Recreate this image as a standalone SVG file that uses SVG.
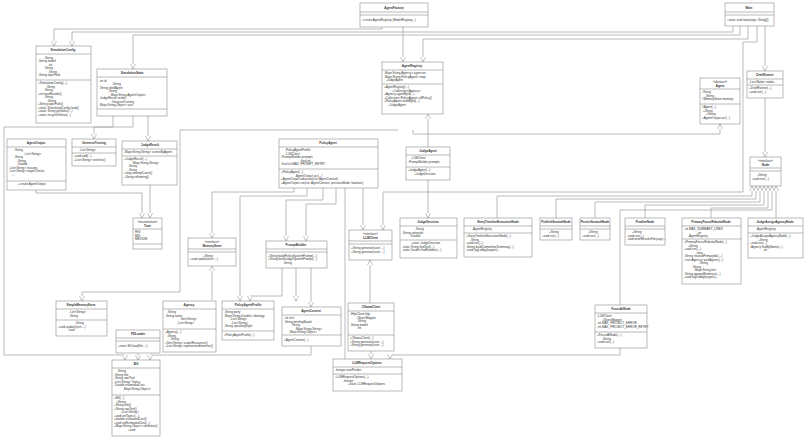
<svg xmlns="http://www.w3.org/2000/svg" width="806" height="438" viewBox="0 0 806 438">
<style>
rect{fill:#fff;stroke:#8c8c8c;stroke-width:.6}
.d{stroke:#8c8c8c;stroke-width:.6}
text{font-family:"Liberation Sans",Arial,sans-serif;font-size:3px;fill:#333}
.t{font-weight:bold;text-anchor:middle}
.s{text-anchor:middle}
#conn polyline{fill:none;stroke:#a8a8a8;stroke-width:.8;marker-end:url(#a)}
</style>
<defs><marker id="a" markerWidth="6" markerHeight="6" refX="5" refY="3" orient="auto" markerUnits="userSpaceOnUse"><path d="M0,0.5 L5,3 L0,5.5" fill="#fff" stroke="#999" stroke-width=".6"/></marker></defs>
<rect x="0" y="0" width="806" height="438" style="fill:#fff;stroke:none"/>
<g id="conn">
<polyline points="382,27 382,29 54,29 54,46"/>
<polyline points="733,26 733,32 72,32 72,46"/>
<polyline points="740,26 740,35 133,35 133,69"/>
<polyline points="748,26 748,39 423,39 423,62"/>
<polyline points="403,27 403,62"/>
<polyline points="765,26 765,71"/>
<polyline points="765,98 765,157"/>
<polyline points="757,26 757,42 743,42 743,192 383,192 383,230"/>
<polyline points="113,116 113,127 4,127 4,355 125,355 125,360"/>
<polyline points="398,130 180,130 180,292 82,292 82,301"/>
<polyline points="413,130 413,134 720,134 720,124"/>
<polyline points="428,147 428,114"/>
<polyline points="428,180 428,218"/>
<polyline points="133,116 133,127 94,127 94,139"/>
<polyline points="148,116 148,141"/>
<polyline points="150,185 150,218"/>
<polyline points="36,190 36,193 142,193 142,218"/>
<polyline points="497,218 497,196 752,196 752,186"/>
<polyline points="556,218 556,199 756,199 756,186"/>
<polyline points="595,218 595,202 760,202 760,186"/>
<polyline points="645,218 645,205 764,205 764,186"/>
<polyline points="711,218 711,208 768,208 768,186"/>
<polyline points="776,218 776,186"/>
<polyline points="620,305 620,210 772,210 772,186"/>
<polyline points="294,188 294,192 212,192 212,238"/>
<polyline points="307,188 307,196 240,196 240,301"/>
<polyline points="323,188 323,200 286,200 286,241"/>
<polyline points="336,188 336,204 306,204 306,241"/>
<polyline points="345,188 345,365 333,365"/>
<polyline points="363,188 363,230"/>
<polyline points="282,268 282,296 250,296 250,301"/>
<polyline points="296,268 296,301"/>
<polyline points="311,268 311,307"/>
<polyline points="212,300 212,266"/>
<polyline points="370,303 370,260"/>
<polyline points="371,351 371,359"/>
<polyline points="620,348 620,355 390,355 390,359"/>
<polyline points="311,346 311,355 150,355 150,360"/>
<polyline points="138,353 138,360"/>
</g>

<g id="AgentFactory"><rect x="360" y="3" width="68" height="24"/><line class="d" x1="360" y1="12" x2="428" y2="12"/><line class="d" x1="360" y1="15" x2="428" y2="15"/><text class="t" x="394" y="9">AgentFactory</text><text x="362" y="21">+create AgentRegistry (ModelRegistry...)</text></g>

<g id="Main"><rect x="725" y="3" width="49" height="23"/><line class="d" x1="725" y1="12" x2="774" y2="12"/><line class="d" x1="725" y1="15" x2="774" y2="15"/><text class="t" x="749" y="9">Main</text><text x="727" y="21">+static void main(args: String[])</text></g>

<g id="SimulationConfig"><rect x="36" y="46" width="55" height="77"/><line class="d" x1="36" y1="54" x2="91" y2="54"/><line class="d" x1="36" y1="80" x2="91" y2="80"/><text class="t" x="63" y="51">SimulationConfig</text>
<text x="44" y="58.5">-String</text><text x="38" y="62">-String model</text><text x="48" y="65.5">-int</text><text x="44" y="69">-String</text><text x="48" y="72.5">-String</text><text x="38" y="76">-String topicPath</text>
<text x="38" y="84">+SimulationConfig(...)</text><text x="46" y="87.5">-String</text><text x="44" y="91">-String</text><text x="38" y="94.5">+int maxRounds()</text><text x="44" y="98">-String</text><text x="47" y="101.5">-String</text><text x="38" y="105">+String topicPath()</text><text x="38" y="108.5">+static SimulationConfig load()</text><text x="38" y="112">+static String getValue(...)</text><text x="38" y="115.5">+static int getIntValue(...)</text></g>

<g id="SimulationState"><rect x="97" y="69" width="70" height="47"/><line class="d" x1="97" y1="77" x2="167" y2="77"/><line class="d" x1="97" y1="109" x2="167" y2="109"/><text class="t" x="132" y="74">SimulationState</text>
<text x="99" y="81.5">-int id</text><text x="112" y="85">-String</text><text x="99" y="88.5">-String shellAgent</text><text x="108" y="92">-String</text><text x="110" y="95.5">-Map&lt;String,AgentOutput&gt;</text><text x="99" y="99">-JudgeResult verdict</text><text x="111" y="102.5">-UniverseTurning</text><text x="99" y="106">-Map&lt;String,Object&gt; vars</text></g>

<g id="AgentRegistry"><rect x="382" y="62" width="61" height="52"/><line class="d" x1="382" y1="70" x2="443" y2="70"/><line class="d" x1="382" y1="84" x2="443" y2="84"/><text class="t" x="412" y="67">AgentRegistry</text>
<text x="384" y="74">-Map&lt;String,Agency&gt; agencies</text><text x="384" y="77.5">-Map&lt;String,PolicyAgent&gt; map</text><text x="386" y="81">-JudgeAgent</text>
<text x="384" y="88">+AgentRegistry(...)</text><text x="392" y="91.5">+Collection&lt;Agency&gt;</text><text x="384" y="95">+Agency agentById(...)</text><text x="384" y="98.5">+Collection&lt;PolicyAgent&gt; allPolicy()</text><text x="384" y="102">+PolicyAgent nodeById(...)</text><text x="388" y="105.5">+JudgeAgent</text></g>

<g id="DraftRunner"><rect x="747" y="71" width="36" height="27"/><line class="d" x1="747" y1="79" x2="783" y2="79"/><line class="d" x1="747" y1="85" x2="783" y2="85"/><text class="t" x="765" y="76">DraftRunner</text><text x="749" y="82.5">-List&lt;Node&gt; nodes</text><text x="749" y="89">+DraftRunner(...)</text><text x="749" y="93">+void run(...)</text></g>

<g id="Agent"><rect x="700" y="78" width="40" height="46"/><line class="d" x1="700" y1="89" x2="740" y2="89"/><line class="d" x1="700" y1="104" x2="740" y2="104"/><text class="s" x="720" y="82.5">«abstract»</text><text class="t" x="720" y="86.5">Agent</text>
<text x="702" y="93">-String</text><text x="705" y="96.5">-String</text><text x="702" y="100">#MemoryStore memory</text><text x="702" y="108">#Agent(...)</text><text x="703" y="111.5">+String</text><text x="706" y="115">+String</text><text x="702" y="118.5">+AgentOutput act(...)</text></g>

<g id="AgentOutput"><rect x="7" y="139" width="59" height="51"/><line class="d" x1="7" y1="147" x2="66" y2="147"/><line class="d" x1="7" y1="181" x2="66" y2="181"/><text class="t" x="36" y="144">AgentOutput</text>
<text x="14" y="151">-String</text><text x="24" y="154.5">-List&lt;String&gt;</text><text x="14" y="158">-String</text><text x="17" y="161.5">-String</text><text x="17" y="165">-Double</text><text x="9" y="168.5">-List&lt;String&gt; reasons</text><text x="9" y="172">-List&lt;String&gt; targetChecks</text><text x="12" y="175.5">...</text><text x="18" y="185">+create AgentOutput</text></g>

<g id="UniverseTurning"><rect x="72" y="139" width="44" height="27"/><line class="d" x1="72" y1="147" x2="116" y2="147"/><line class="d" x1="72" y1="153" x2="116" y2="153"/><text class="t" x="94" y="144">UniverseTurning</text><text x="79" y="150.5">-List&lt;String&gt;</text><text x="74" y="157">+void add(...)</text><text x="74" y="160.5">+List&lt;String&gt; snitches()</text></g>

<g id="JudgeResult"><rect x="122" y="141" width="55" height="44"/><line class="d" x1="122" y1="149" x2="177" y2="149"/><line class="d" x1="122" y1="156" x2="177" y2="156"/><text class="t" x="150" y="146">JudgeResult</text><text x="124" y="153">-Map&lt;String,String&gt; scoresByAgent</text>
<text x="124" y="160">+JudgeResult(...)</text><text x="132" y="163.5">-Map&lt;String,String&gt;</text><text x="128" y="167">-String</text><text x="128" y="170.5">-String</text><text x="124" y="174">+long attemptCount()</text><text x="124" y="177.5">+String reframing()</text></g>

<g id="PolicyAgent"><rect x="279" y="139" width="99" height="49"/><line class="d" x1="279" y1="147" x2="378" y2="147"/><line class="d" x1="279" y1="169" x2="378" y2="169"/><text class="t" x="328" y="144">PolicyAgent</text>
<text x="285" y="151">-PolicyAgentProfile</text><text x="285" y="154.5">-LLMClient</text><text x="281" y="158">-PromptBuilder prompts</text><text x="300" y="161.5">-final int</text><text x="281" y="165">-final int MAX_PROMPT_RETRY</text>
<text x="281" y="173">+PolicyAgent(...)</text><text x="295" y="176.5">-AgentOutput act(...)</text><text x="281" y="180">+AgentOutput advocate(ctx: AgentContext)</text><text x="281" y="183.5">+AgentOutput run(ctx: AgentContext, previousMode: boolean)</text></g>

<g id="JudgeAgent"><rect x="406" y="147" width="44" height="33"/><line class="d" x1="406" y1="155" x2="450" y2="155"/><line class="d" x1="406" y1="167" x2="450" y2="167"/><text class="t" x="428" y="152">JudgeAgent</text><text x="411" y="159">-LLMClient</text><text x="408" y="162.5">-PromptBuilder prompts</text><text x="408" y="171">+JudgeAgent(...)</text><text x="414" y="174.5">+JudgeDecision</text></g>

<g id="Node"><rect x="750" y="157" width="31" height="29"/><line class="d" x1="750" y1="168" x2="781" y2="168"/><line class="d" x1="750" y1="171" x2="781" y2="171"/><text class="s" x="765.5" y="161.5">«interface»</text><text class="t" x="765.5" y="165.5">Node</text><text x="757" y="176">+String</text><text x="752" y="179.5">+void run(...)</text></g>

<g id="Tone"><rect x="133" y="218" width="29" height="31"/><line class="d" x1="133" y1="229" x2="162" y2="229"/><line class="d" x1="133" y1="244" x2="162" y2="244"/><text class="s" x="147.5" y="222.5">«enumeration»</text><text class="t" x="147.5" y="226.5">Tone</text><text x="135" y="233">HIG</text><text x="135" y="236.5">MID</text><text x="135" y="240">MEDIUM</text></g>

<g id="JudgeDecision"><rect x="400" y="218" width="57" height="40"/><line class="d" x1="400" y1="226" x2="457" y2="226"/><line class="d" x1="400" y1="240" x2="457" y2="240"/><text class="t" x="428" y="223">JudgeDecision</text><text x="415" y="230">-String</text><text x="402" y="233.5">-String rationale</text><text x="410" y="237">-Double</text><text x="411" y="244">+static JudgeDecision</text><text x="402" y="247.5">-static String findText(...)</text><text x="402" y="251">-static Double findNumber(...)</text></g>

<g id="StoryTimelineExecutionNode"><rect x="464" y="218" width="68" height="39"/><line class="d" x1="464" y1="226" x2="532" y2="226"/><line class="d" x1="464" y1="233" x2="532" y2="233"/><text class="t" x="498" y="223">StoryTimelineExecutionNode</text><text x="472" y="230">-AgentRegistry</text>
<text x="466" y="237">+StoryTimelineExecutionNode(...)</text><text x="470" y="240.5">-String</text><text x="466" y="244">+void run(...)</text><text x="466" y="247.5">-String buildCommitteeSummary(...)</text><text x="466" y="251">+void logLobby(targets)...</text></g>

<g id="PublishScratchNode"><rect x="540" y="218" width="32" height="22"/><line class="d" x1="540" y1="226" x2="572" y2="226"/><line class="d" x1="540" y1="229" x2="572" y2="229"/><text class="t" x="556" y="223">PublishScratchNode</text><text x="549" y="233">+String</text><text x="542" y="236.5">+void run(...)</text></g>

<g id="PersistScratchNode"><rect x="580" y="218" width="30" height="22"/><line class="d" x1="580" y1="226" x2="610" y2="226"/><line class="d" x1="580" y1="229" x2="610" y2="229"/><text class="t" x="595" y="223">PersistScratchNode</text><text x="588" y="233">+String</text><text x="582" y="236.5">+void run(...)</text></g>

<g id="FinalizeNode"><rect x="625" y="218" width="40" height="27"/><line class="d" x1="625" y1="226" x2="665" y2="226"/><line class="d" x1="625" y1="229" x2="665" y2="229"/><text class="t" x="645" y="223">FinalizeNode</text><text x="632" y="233">+String</text><text x="627" y="236.5">+void run(...)</text><text x="627" y="240">-void writeResultsFile(args)...</text></g>

<g id="PrimaryFocusRebuttalNode"><rect x="682" y="218" width="59" height="66"/><line class="d" x1="682" y1="226" x2="741" y2="226"/><line class="d" x1="682" y1="239" x2="741" y2="239"/><text class="t" x="711" y="223">PrimaryFocusRebuttalNode</text>
<text x="684" y="230">-int MAX_SUMMARY_LINES</text><text x="697" y="233.5">-int</text><text x="688" y="237">-AgentRegistry</text>
<text x="684" y="243">+PrimaryFocusRebuttalNode(...)</text><text x="688" y="246.5">+String</text><text x="684" y="250">+void run(...)</text><text x="696" y="253.5">-long</text><text x="684" y="257">-String choosePrimaryIds(...)</text><text x="684" y="260.5">-List&lt;Agency&gt; pickAgents(...)</text><text x="699" y="264">-String</text><text x="692" y="267.5">-String</text><text x="694" y="271">-Map&lt;String,Int&gt;</text><text x="684" y="274.5">-String appendEvidence(...)</text><text x="684" y="278">+void logLobby(targets)...</text></g>

<g id="JudgeAssignAgencyNode"><rect x="748" y="218" width="55" height="40"/><line class="d" x1="748" y1="226" x2="803" y2="226"/><line class="d" x1="748" y1="233" x2="803" y2="233"/><text class="t" x="775" y="223">JudgeAssignAgencyNode</text><text x="756" y="230">-AgentRegistry</text>
<text x="750" y="237">+JudgeAssignAgencyNode(...)</text><text x="758" y="240.5">+String</text><text x="750" y="244">+void run(...)</text><text x="750" y="247.5">-Agency findByName(...)</text><text x="763" y="251">-int</text></g>

<g id="MemoryStore"><rect x="188" y="238" width="48" height="28"/><line class="d" x1="188" y1="249" x2="236" y2="249"/><line class="d" x1="188" y1="252" x2="236" y2="252"/><text class="s" x="212" y="242.5">«interface»</text><text class="t" x="212" y="246.5">MemoryStore</text><text x="203" y="256.5">+String</text><text x="190" y="260">+void update(turn:...)</text></g>

<g id="PromptBuilder"><rect x="266" y="241" width="61" height="27"/><line class="d" x1="266" y1="249" x2="327" y2="249"/><line class="d" x1="266" y1="252" x2="327" y2="252"/><text class="t" x="296" y="246">PromptBuilder</text><text x="268" y="256.5">+String buildPolicySystemPrompt(...)</text><text x="268" y="260">+String buildJudgeSystemPrompt(...)</text><text x="283" y="263.5">-String</text></g>

<g id="LLMClient"><rect x="349" y="230" width="43" height="30"/><line class="d" x1="349" y1="241" x2="392" y2="241"/><line class="d" x1="349" y1="244" x2="392" y2="244"/><text class="s" x="370.5" y="234.5">«interface»</text><text class="t" x="370.5" y="238.5">LLMClient</text><text x="351" y="249">+String generate(user:...)</text><text x="351" y="252.5">+String generate(user:...)</text></g>

<g id="SimpleMemoryStore"><rect x="56" y="301" width="51" height="35"/><line class="d" x1="56" y1="309" x2="107" y2="309"/><line class="d" x1="56" y1="320" x2="107" y2="320"/><text class="t" x="81" y="306">SimpleMemoryStore</text><text x="69" y="313">-List&lt;String&gt;</text><text x="69" y="316.5">-String</text><text x="75" y="324">-String</text><text x="58" y="327.5">+void update(turn:...)</text><text x="68" y="331">-void</text></g>

<g id="Agency"><rect x="163" y="301" width="53" height="51"/><line class="d" x1="163" y1="309" x2="216" y2="309"/><line class="d" x1="163" y1="329" x2="216" y2="329"/><text class="t" x="189" y="306">Agency</text><text x="167" y="313">-String</text><text x="165" y="316.5">-String name</text><text x="180" y="320">-Set&lt;String&gt;</text><text x="177" y="323.5">-List&lt;String&gt;</text>
<text x="165" y="333">+Agency(...)</text><text x="167" y="336.5">-String</text><text x="170" y="340">-String</text><text x="165" y="343.5">+Set&lt;String&gt; scopeResources()</text><text x="165" y="347">+List&lt;String&gt; representedInterests()</text></g>

<g id="PolicyAgentProfile"><rect x="222" y="301" width="52" height="39"/><line class="d" x1="222" y1="309" x2="274" y2="309"/><line class="d" x1="222" y1="331" x2="274" y2="331"/><text class="t" x="248" y="306">PolicyAgentProfile</text><text x="224" y="313">-String party</text><text x="224" y="316.5">-Map&lt;String,Double&gt; ideology</text><text x="230" y="320">-List&lt;String&gt;</text><text x="231" y="323.5">-List&lt;String&gt;</text><text x="224" y="327">-String speakingStyle</text><text x="224" y="336">+PolicyAgentProfile(...)</text></g>

<g id="AgentContext"><rect x="282" y="307" width="59" height="39"/><line class="d" x1="282" y1="315" x2="341" y2="315"/><line class="d" x1="282" y1="335" x2="341" y2="335"/><text class="t" x="311" y="312">AgentContext</text><text x="284" y="319">-int turn</text><text x="284" y="322.5">-String briefingBoard</text><text x="291" y="326">-String</text><text x="295" y="329.5">-Map&lt;String,String&gt;</text><text x="289" y="333">-Map&lt;String,Object&gt;</text><text x="284" y="341">+AgentContext(...)</text></g>

<g id="OllamaClient"><rect x="348" y="303" width="46" height="48"/><line class="d" x1="348" y1="311" x2="394" y2="311"/><line class="d" x1="348" y1="335" x2="394" y2="335"/><text class="t" x="371" y="308">OllamaClient</text><text x="350" y="315">-HttpClient http</text><text x="356" y="318.5">-ObjectMapper</text><text x="357" y="322">-String</text><text x="350" y="325.5">-String model</text><text x="357" y="329">-int</text><text x="350" y="339">+OllamaClient(...)</text><text x="350" y="342.5">+String generate(user:...)</text><text x="350" y="346">+String generate(user:...)</text></g>

<g id="FocusAtNode"><rect x="595" y="305" width="52" height="43"/><line class="d" x1="595" y1="313" x2="647" y2="313"/><line class="d" x1="595" y1="332" x2="647" y2="332"/><text class="t" x="621" y="310">FocusAtNode</text><text x="597" y="317">-LLMClient</text><text x="602" y="320.5">-ObjectMapper</text><text x="597" y="324">-int MAX_PROJECT_ERROR</text><text x="597" y="327.5">-int MAX_PROJECT_ERROR_RETRY</text><text x="597" y="336">+FocusAtNode(...)</text><text x="602" y="339.5">-String</text><text x="597" y="343">+void run(...)</text></g>

<g id="PDLoader"><rect x="116" y="330" width="44" height="23"/><line class="d" x1="116" y1="338" x2="160" y2="338"/><line class="d" x1="116" y1="341" x2="160" y2="341"/><text class="t" x="138" y="335">PDLoader</text><text x="118" y="347">+static Bill load(file:...)</text></g>

<g id="LLMRequestOptions"><rect x="333" y="359" width="69" height="32"/><line class="d" x1="333" y1="367" x2="402" y2="367"/><line class="d" x1="333" y1="374" x2="402" y2="374"/><text class="t" x="367" y="364">LLMRequestOptions</text><text x="335" y="371">-Integer numPredict</text><text x="335" y="378">+LLMRequestOptions(...)</text><text x="343" y="381.5">-Integer</text><text x="348" y="385">+static LLMRequestOptions</text></g>

<g id="Bill"><rect x="112" y="360" width="48" height="76"/><line class="d" x1="112" y1="368" x2="160" y2="368"/><line class="d" x1="112" y1="395" x2="160" y2="395"/><text class="t" x="136" y="365">Bill</text><text x="117" y="372">-String</text><text x="114" y="375.5">-String title</text><text x="114" y="379">-String raw/Text</text><text x="114" y="382.5">-List&lt;String&gt; Topics</text><text x="114" y="386">-Double estimatedCost</text><text x="123" y="389.5">-Map&lt;String,Object&gt;</text>
<text x="114" y="399">+Bill(...)</text><text x="116" y="402.5">+String</text><text x="114" y="406">+String title()</text><text x="114" y="409.5">+String rawText()</text><text x="121" y="413">+List&lt;String&gt;</text><text x="114" y="416.5">+void setTopics(...)</text><text x="114" y="420">+double estimatedCost()</text><text x="114" y="423.5">+void setEstimatedCost(...)</text><text x="114" y="427">+Map&lt;String,Object&gt; attributes()</text><text x="128" y="430.5">+void</text></g>
</svg>
